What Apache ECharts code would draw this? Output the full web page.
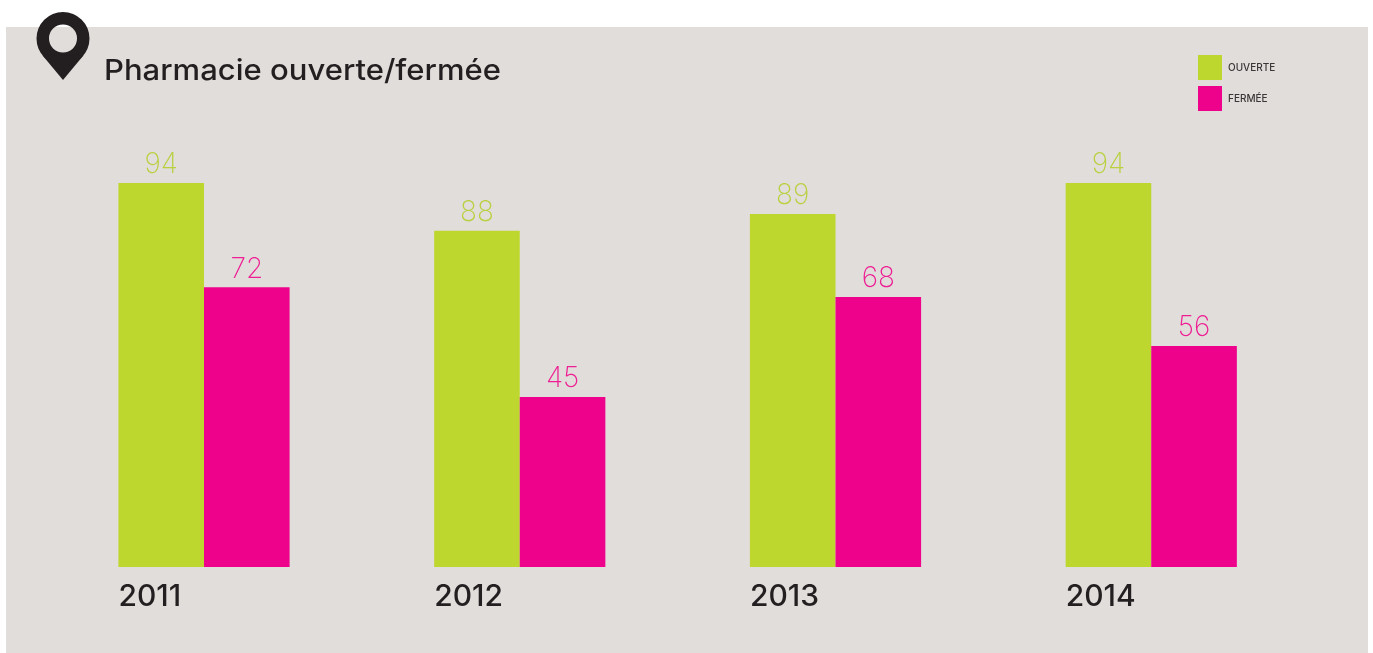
<!DOCTYPE html>
<html><head><meta charset="utf-8">
<style>html,body{margin:0;padding:0;background:#fff}#c{width:1373px;height:653px}</style>
<script src="https://cdn.jsdelivr.net/npm/echarts@6/dist/echarts.min.js"></script>
</head><body><div id="c"></div>
<script>
const years = ['2011','2012','2013','2014'];
// Figures printed above the bars.
const ouverteLabels = [94,88,89,94];
const fermeeLabels = [72,45,68,56];
// Bar lengths as drawn in the picture (on the scale where the tallest bar = 94);
// the source's bars are not exactly proportional to their printed figures.
const ouverteHeights = [94,82.3,86.4,94];
const fermeeHeights = [68.5,41.6,66.1,54.1];
const title = 'Pharmacie ouverte/fermée';
const FONT = 'Inter';
const chart = echarts.init(document.getElementById('c'),null,{renderer:'canvas'});
const lab = (arr,color)=>({show:true,position:'top',distance:4,color,fontFamily:FONT,fontWeight:200,fontSize:28,
  formatter:p=>String(arr[p.dataIndex])});
chart.setOption({
  animation:false,
  backgroundColor:'#fff',
  grid:{left:46.125,right:63.875,top:183,bottom:86,containLabel:false},
  xAxis:{type:'category',data:years,axisLine:{show:false},axisTick:{show:false},
    axisLabel:{margin:15,formatter:v=>'{a|'+v+'}',rich:{a:{width:171.2,align:'left',fontFamily:FONT,fontWeight:500,fontSize:30,color:'#231f20'}}}},
  yAxis:{type:'value',min:0,max:94,show:false,splitLine:{show:false}},
  legend:{left:1198,top:55,padding:0,orient:'vertical',itemWidth:24,itemHeight:25,itemGap:6,icon:'rect',
    textStyle:{fontFamily:FONT,fontSize:10,fontWeight:500,color:'#3a3637',padding:[4,0,0,1]},
    data:['OUVERTE','FERMÉE']},
  series:[
    {name:'OUVERTE',type:'bar',data:ouverteHeights,barWidth:85.6,barGap:0,itemStyle:{color:'#bed72f'},label:lab(ouverteLabels,'#b9d03f'),z:3},
    {name:'FERMÉE',type:'bar',data:fermeeHeights,barWidth:85.6,barGap:0,itemStyle:{color:'#ee028c'},label:lab(fermeeLabels,'#ee1f93'),z:3}
  ],
  graphic:[
    {type:'rect',z:-10,silent:true,shape:{x:6,y:27,width:1362,height:626},style:{fill:'#e1dddb'}},
    {type:'ring',z:10,silent:true,shape:{cx:63,cy:38.5,r:26.5,r0:14},style:{fill:'#231f20'}},
    {type:'polygon',z:10,silent:true,shape:{points:[[42.4,55.2],[63,80],[83.6,55.2]]},style:{fill:'#231f20'}},
    {type:'text',z:10,silent:true,x:104,y:71,scaleX:1.07,style:{text:title,fontFamily:FONT,fontSize:29,fontWeight:500,fill:'#231f20',verticalAlign:'middle'}}
  ]
});
</script></body></html>
